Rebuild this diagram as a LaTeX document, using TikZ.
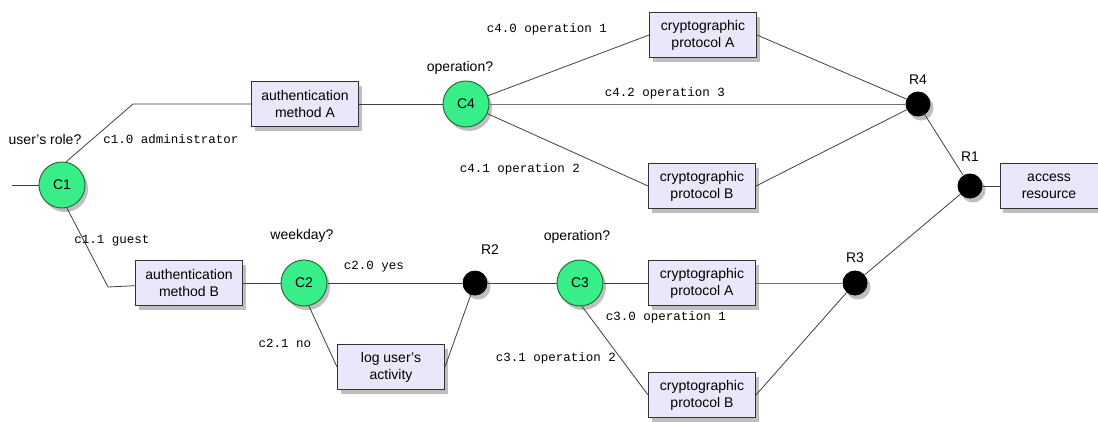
\documentclass[tikz,border=0pt]{standalone}
\usepackage{fontspec}
\setmainfont{Liberation Sans}
\newfontfamily\monof{Liberation Mono}
\usetikzlibrary{shadows}
\definecolor{cgreen}{HTML}{38EE88}
\definecolor{cgreenb}{HTML}{2A6E38}
\definecolor{boxfill}{HTML}{ECE6FA}
\tikzset{
  shd/.style={drop shadow={shadow xshift=3pt,shadow yshift=-4pt,opacity=0.25,fill=black}},
  cond/.style={circle,draw=cgreenb,line width=1pt,fill=cgreen,minimum size=46pt,inner sep=0pt,shd,font=\fontsize{14}{17}\selectfont},
  rdot/.style={circle,fill=black,minimum size=25pt,inner sep=0pt,shd},
  act/.style={rectangle,draw=black!80,line width=0.9pt,fill=boxfill,minimum width=107pt,minimum height=45pt,inner sep=0pt,align=center,shd,font=\fontsize{14}{17}\selectfont},
  lbl/.style={font=\fontsize{14}{17}\selectfont,inner sep=0pt},
  elbl/.style={font=\monof\fontsize{12.5}{14}\selectfont,inner sep=0pt},
  wire/.style={draw=black!75,line width=0.8pt},
}
\begin{document}
\begin{tikzpicture}[x=1pt,y=-1pt]
\useasboundingbox (0,0) rectangle (1098,421);
\fill[white] (0,0) rectangle (1098,421);

% coordinates
\coordinate (in) at (12,185);
\coordinate (k1) at (133,104);
\coordinate (k2) at (108,287);

% nodes
\node[act] (authA) at (305,104) {authentication\\method A};
\node[act] (authB) at (189,283) {authentication\\method B};
\node[act] (cAt) at (703,35) {cryptographic\\protocol A};
\node[act] (cBt) at (702,186) {cryptographic\\protocol B};
\node[act] (cAb) at (702,283) {cryptographic\\protocol A};
\node[act] (cBb) at (702,395) {cryptographic\\protocol B};
\node[act] (log) at (391,367) {log user's\\activity};
\node[act,minimum width=98pt] (acc) at (1049,186) {access\\resource};

\node[cond] (C1) at (62,185) {C1};
\node[cond] (C4) at (466,104) {C4};
\node[cond] (C2) at (304,283) {C2};
\node[cond] (C3) at (580,283) {C3};

\node[rdot] (R4) at (918,104) {};
\node[rdot] (R1) at (970,186) {};
\node[rdot] (R2) at (475,283) {};
\node[rdot] (R3) at (855,283) {};

% connectors
\draw[wire] (in) -- (C1);
\draw[wire] (C1.80) -- (k1) -- (authA);
\draw[wire] (C1.-78) -- (k2) -- (authB);
\draw[wire] (authA) -- (C4);
\draw[wire] (C4) -- (cAt.west);
\draw[wire,draw=black!55] (C4) -- (R4);
\draw[wire] (C4) -- (cBt.west);
\draw[wire] (cAt.east) -- (R4);
\draw[wire] (cBt.east) -- (R4);
\draw[wire] (R4) -- (R1);
\draw[wire] (R1) -- (acc);
\draw[wire] (authB) -- (C2);
\draw[wire] (C2) -- (R2);
\draw[wire] (C2.-78) -- (log.west);
\draw[wire] (R2) -- (log.east);
\draw[wire] (R2) -- (C3);
\draw[wire] (C3) -- (cAb);
\draw[wire] (C3.-85) -- (cBb.west);
\draw[wire,draw=black!55] (cAb) -- (R3);
\draw[wire] (R3) -- (cBb.east);
\draw[wire] (R3) -- (R1);

% labels
\node[lbl] (q1) at (45,139) {user's role?};
\node[lbl] (q4) at (460,68) {operation?};
\node[lbl] (q2) at (302,236) {weekday?};
\node[lbl] (q3) at (577,237) {operation?};
\node[lbl] (l4) at (918,80) {R4};
\node[lbl] (l1) at (970,157) {R1};
\node[lbl] (l2) at (490,250) {R2};
\node[lbl] (l3) at (855,258) {R3};

\node[elbl] (e10) at (171,139) {c1.0 administrator};
\node[elbl] (e11) at (112,241) {c1.1 guest};
\node[elbl] (e40) at (547,29) {c4.0 operation 1};
\node[elbl] (e42) at (665,93) {c4.2 operation 3};
\node[elbl] (e41) at (520,169) {c4.1 operation 2};
\node[elbl] (e20) at (374,267) {c2.0 yes};
\node[elbl] (e21) at (285,343) {c2.1 no};
\node[elbl] (e30) at (666,317) {c3.0 operation 1};
\node[elbl] (e31) at (556,358) {c3.1 operation 2};
\end{tikzpicture}
\end{document}
